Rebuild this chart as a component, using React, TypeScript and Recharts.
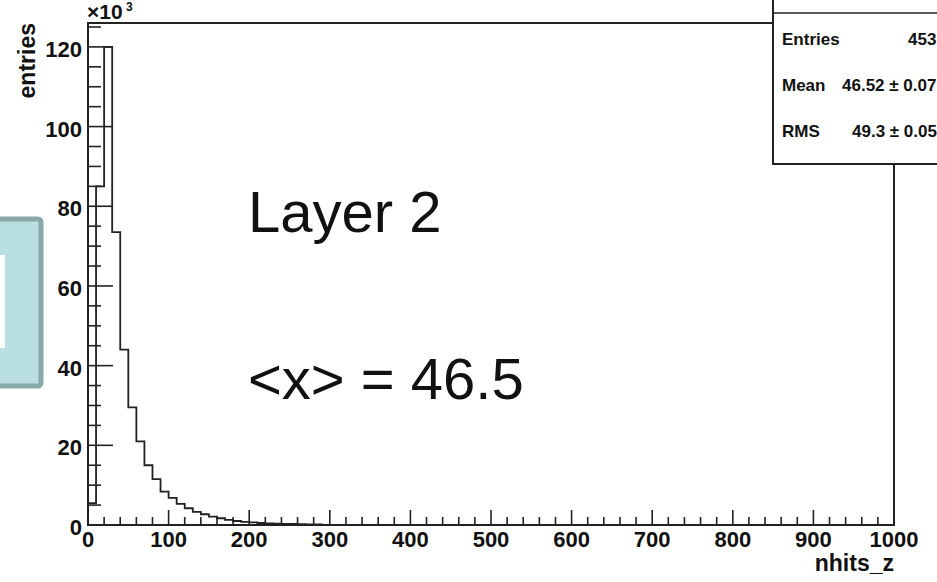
import React from "react";
import { LineChart, Line, XAxis, YAxis, ReferenceArea } from "recharts";

const FONT = "'Liberation Sans', Arial, sans-serif";
const INK = "#222";

// nhits_z histogram, 10-wide bins starting at 0, entries in units of 10^3
const binWidth = 10;
const binCounts = [
  5.5, 85, 120, 73.5, 44, 29.5, 21, 15, 11.5, 8.4,
  6.8, 5.3, 4.2, 3.3, 2.7, 2.1, 1.7, 1.3, 1.0, 0.8,
  0.65, 0.5, 0.4, 0.35, 0.3, 0.25, 0.2, 0.15, 0.12,
];
const xMax = 1000;
const yMax = 126;

const xMajorTicks = [0, 100, 200, 300, 400, 500, 600, 700, 800, 900, 1000];
const yMajorTicks = [0, 20, 40, 60, 80, 100, 120];
const xMinorStep = 20;
const yMinorStep = 5;

const statLabels = ["Entries", "Mean", "RMS"];
const statValues = ["453", "46.52 \u00b1 0.07", "49.3 \u00b1 0.05"];

const histData = [
  ...binCounts.map((v, i) => ({ x: i * binWidth, v })),
  { x: binCounts.length * binWidth, v: 0 },
  { x: xMax, v: 0 },
];

const xTicks: number[] = [];
for (let t = 0; t <= xMax; t += xMinorStep) xTicks.push(t);
const yTicks: number[] = [];
for (let t = 0; t <= yMax; t += yMinorStep) yTicks.push(t);

function XTick(props: any) {
  const { x, y, payload } = props;
  const major = xMajorTicks.includes(payload.value);
  return (
    <g>
      <line x1={x} x2={x} y1={y} y2={y - (major ? 15 : 8)} stroke={INK} strokeWidth={1.6} />
      {major && (
        <text x={x} y={y + 22} textAnchor="middle" fontFamily={FONT} fontWeight="bold" fontSize={22} fill="#111">
          {payload.value}
        </text>
      )}
    </g>
  );
}

function YTick(props: any) {
  const { x, y, payload } = props;
  const major = yMajorTicks.includes(payload.value);
  return (
    <g>
      <line x1={x} x2={x + (major ? 25 : 13)} y1={y} y2={y} stroke={INK} strokeWidth={1.6} />
      {major && (
        <text x={x - 6} y={y + 10} textAnchor="end" fontFamily={FONT} fontWeight="bold" fontSize={22} fill="#111">
          {payload.value}
        </text>
      )}
    </g>
  );
}

export default function App() {
  return (
    <div style={{ position: "absolute", left: 0, top: 0, width: 937, height: 582, overflow: "hidden", background: "#fff" }}>
      <LineChart width={937} height={582} data={histData} margin={{ top: 23, right: 43, left: 0, bottom: 0 }}>
        <XAxis
          dataKey="x"
          type="number"
          domain={[0, xMax]}
          ticks={xTicks}
          interval={0}
          height={57}
          axisLine={false}
          tickLine={false}
          tickSize={0}
          tickMargin={0}
          tick={<XTick />}
        />
        <YAxis
          type="number"
          domain={[0, yMax]}
          ticks={yTicks}
          interval={0}
          width={88}
          axisLine={false}
          tickLine={false}
          tickSize={0}
          tickMargin={0}
          tick={<YTick />}
        />
        <ReferenceArea x1={0} x2={xMax} y1={0} y2={yMax} fill="none" stroke={INK} strokeWidth={2} />
        <Line
          dataKey="v"
          type="stepAfter"
          stroke={INK}
          strokeWidth={1.8}
          dot={false}
          isAnimationActive={false}
        />
      </LineChart>

      <svg width={937} height={582} style={{ position: "absolute", left: 0, top: 0, pointerEvents: "none" }}>
        {/* slide box peeking in from the left */}
        <rect x={-10} y={219} width={51} height={167} rx={3} fill="#b9dfe2" stroke="#89a8a9" strokeWidth={5} />
        <rect x={-2} y={255} width={7} height={93} fill="#fff" />

        <text x={87} y={19} fontFamily={FONT} fontWeight="bold" fontSize={21} fill="#111">×10</text>
        <text x={126} y={11} fontFamily={FONT} fontWeight="bold" fontSize={12} fill="#111">3</text>
        <text
          x={35}
          y={23}
          transform="rotate(-90 35 23)"
          textAnchor="end"
          fontFamily={FONT}
          fontWeight="bold"
          fontSize={23}
          fill="#111"
        >
          entries
        </text>
        <text x={894} y={571} textAnchor="end" fontFamily={FONT} fontWeight="bold" fontSize={23} fill="#111">
          nhits_z
        </text>

        <text x={248} y={232} fontFamily={FONT} fontSize={58} fill="#111">Layer 2</text>
        <text x={248} y={399} fontFamily={FONT} fontSize={58} fill="#111">{"<x> = 46.5"}</text>

        {/* stats box */}
        <rect x={773} y={-10} width={200} height={174} fill="#fff" stroke={INK} strokeWidth={2} />
        <line x1={773} x2={937} y1={13} y2={13} stroke={INK} strokeWidth={1.5} />
        {statLabels.map((s, i) => (
          <text key={s} x={782} y={45 + i * 46} fontFamily={FONT} fontWeight="bold" fontSize={17} fill="#111">
            {s}
          </text>
        ))}
        {statValues.map((s, i) => (
          <text key={s} x={[908, 842, 852][i]} y={45 + i * 46} fontFamily={FONT} fontWeight="bold" fontSize={17} fill="#111">
            {s}
          </text>
        ))}
      </svg>
    </div>
  );
}
